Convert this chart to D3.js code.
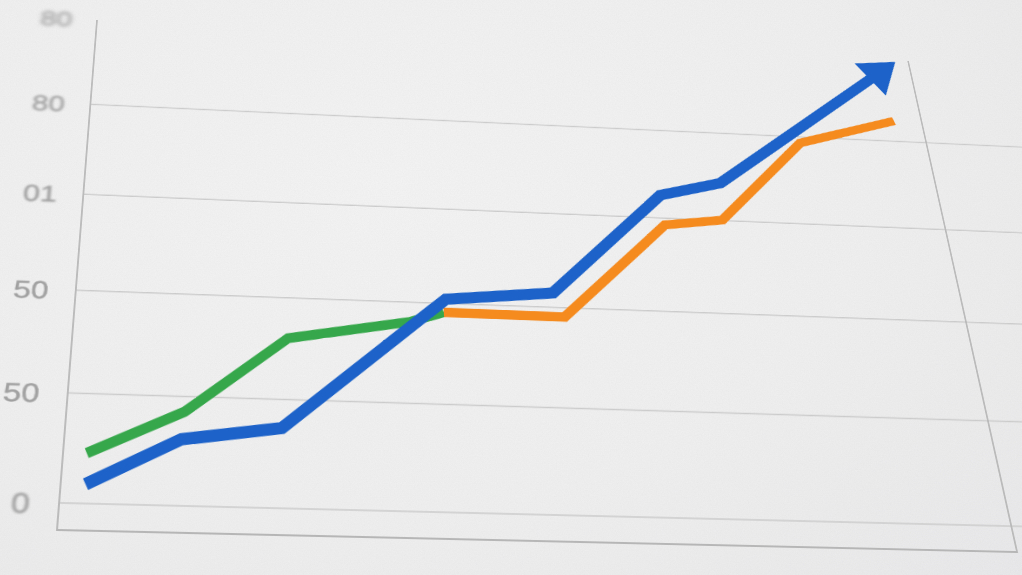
<!DOCTYPE html>
<html>
<head>
<meta charset="utf-8">
<script src="https://cdn.jsdelivr.net/npm/d3@7"></script>
<style>
  html, body { margin: 0; padding: 0; width: 1022px; height: 575px; overflow: hidden; }
  body { background: radial-gradient(ellipse 900px 600px at 380px 180px, #f2f2f2 0%, #eeeeee 55%, #e7e7e9 100%); position: relative; }
  #noise { position: absolute; left: 0; top: 0; pointer-events: none; }
  #stage { position: absolute; left: 0; top: 0; width: 1600px; height: 900px; transform-origin: 0 0; }
</style>
</head>
<body>
<svg id="noise" width="1022" height="575"></svg>
<div id="stage"></div>
<script>
// ---------------- data ----------------
const tickValues = [0, 20, 40, 60, 80, 100];
const tickLabels = ["0", "50", "50", "01", "80", "80"];

const blueX   = [2.5, 12.0, 22.4, 40.4, 52.5, 66.2, 73.6, 98.3];
const blueY   = [3.4, 12.0, 14.6, 40.9, 43.0, 65.1, 68.4, 99.6];

const orangeX = [40.1, 53.6, 66.3, 73.2, 84.2, 96.5];
const orangeY = [38.2, 38.1, 58.5, 60.1, 78.6, 84.9];

const greenX  = [2.4, 12.2, 23.0, 36.3, 40.1];
const greenY  = [9.0, 17.1, 31.9, 36.0, 38.2];

// ---------------- layout (flat chart + perspective of the photo) ----------------
const W = 1000, H = 600, OX = 250, OY = 120;
// where the frame's four corners land in the photo (TL, TR, BR, BL)
const corners = [[97, 20], [908, 61], [1017, 552], [57, 530]];

const x = d3.scaleLinear().domain([0, 100]).range([0, W]);
const y = d3.scaleLinear().domain([-4.7, 100]).range([H, 0]);

function homography(p) {
  const [x0, y0] = p[0], [x1, y1] = p[1], [x2, y2] = p[2], [x3, y3] = p[3];
  const dx1 = x1 - x2, dx2 = x3 - x2, dx3 = x0 - x1 + x2 - x3;
  const dy1 = y1 - y2, dy2 = y3 - y2, dy3 = y0 - y1 + y2 - y3;
  const den = dx1 * dy2 - dx2 * dy1;
  const g = (dx3 * dy2 - dx2 * dy3) / den, h = (dx1 * dy3 - dx3 * dy1) / den;
  return { a: x1 - x0 + g * x1, b: x3 - x0 + h * x3, c: x0,
           d: y1 - y0 + g * y1, e: y3 - y0 + h * y3, f: y0, g, h };
}
const M = homography(corners);
const A = M.a / W, B = M.b / H, C = M.c - M.a * OX / W - M.b * OY / H;
const D = M.d / W, E = M.e / H, F = M.f - M.d * OX / W - M.e * OY / H;
const G = M.g / W, HH = M.h / H, I = 1 - M.g * OX / W - M.h * OY / H;
document.getElementById('stage').style.transform =
  `matrix3d(${A},${D},0,${G},${B},${E},0,${HH},0,0,1,0,${C},${F},0,${I})`;

// ---------------- paper grain ----------------
const nz = d3.select('#noise');
const nf = nz.append('defs').append('filter').attr('id', 'grain');
nf.append('feTurbulence').attr('type', 'fractalNoise').attr('baseFrequency', 0.85).attr('numOctaves', 2).attr('seed', 3);
nf.append('feColorMatrix').attr('type', 'matrix')
  .attr('values', '0 0 0 0 0.45  0 0 0 0 0.45  0 0 0 0 0.47  0 0 0 0.9 -0.25');
nz.append('rect').attr('width', 1022).attr('height', 575).attr('filter', 'url(#grain)').attr('opacity', 0.12);

// ---------------- chart ----------------
const svg = d3.select('#stage').append('svg').attr('width', 1600).attr('height', 900);
const defs = svg.append('defs');
const blurs = [1.1, 0.7, 0.55, 0.8, 1.5, 2.3];
blurs.forEach((s, i) => {
  defs.append('filter').attr('id', 'lb' + i).attr('x', '-50%').attr('y', '-50%').attr('width', '200%').attr('height', '200%')
    .append('feGaussianBlur').attr('stdDeviation', s);
});
defs.append('filter').attr('id', 'soft').attr('x', '-20%').attr('y', '-50%').attr('width', '140%').attr('height', '200%')
  .append('feGaussianBlur').attr('stdDeviation', 0.9);
defs.append('filter').attr('id', 'soft2').attr('x', '-20%').attr('y', '-50%').attr('width', '140%').attr('height', '200%')
  .append('feGaussianBlur').attr('stdDeviation', 0.6);

const g = svg.append('g').attr('transform', `translate(${OX},${OY})`);

// gridlines (extend past the right edge of the frame, as on the paper)
g.append('g').selectAll('line').data(tickValues).join('line')
  .attr('x1', 0).attr('x2', x(135))
  .attr('y1', d => y(d)).attr('y2', d => y(d))
  .attr('stroke', (d, i) => i === tickValues.length - 1 ? '#c2c2c2' : '#cbcbcb')
  .attr('stroke-width', (d, i) => i === tickValues.length - 1 ? 2.2 : 1.5)
  .attr('filter', (d, i) => i === tickValues.length - 1 ? 'url(#soft)' : null);

// frame
g.append('path')
  .attr('d', `M${x(0)},${y(100)}V${y(-4.7)}H${x(100)}V${y(100)}`)
  .attr('fill', 'none').attr('stroke', '#b6b6b6').attr('stroke-width', 1.8)
  .attr('filter', 'url(#soft2)');
// neighbouring column edge on the paper
g.append('line')
  .attr('x1', x(111.5)).attr('x2', x(111.5)).attr('y1', y(100)).attr('y2', y(-4.7))
  .attr('stroke', '#d4d4d4').attr('stroke-width', 1.8).attr('filter', 'url(#soft)');

// y labels
const axis = d3.axisLeft(y).tickValues(tickValues).tickFormat((d, i) => tickLabels[i]).tickSize(0);
const ax = g.append('g').call(axis);
ax.select('.domain').remove();
ax.selectAll('.tick text')
  .attr('x', 0).attr('dy', '0.36em')
  .attr('transform', 'translate(-29,0) scale(1.2,1)')
  .attr('font-family', '"Liberation Sans", Arial, sans-serif')
  .attr('font-size', 28)
  .attr('fill', '#a0a0a0')
  .attr('stroke', '#a0a0a0').attr('stroke-width', 0.5)
  .attr('filter', (d, i) => `url(#lb${i})`);

// series
const line = d3.line().x(d => x(d[0])).y(d => y(d[1]));

g.append('path').datum(d3.zip(greenX, greenY)).attr('d', line)
  .attr('fill', 'none').attr('stroke', '#36a84b').attr('stroke-width', 11)
  .attr('stroke-linejoin', 'miter').attr('stroke-linecap', 'butt');

g.append('path').datum(d3.zip(orangeX, orangeY)).attr('d', line)
  .attr('fill', 'none').attr('stroke', '#f58a1f').attr('stroke-width', 11)
  .attr('stroke-linejoin', 'miter').attr('stroke-linecap', 'butt');

// blue with arrow head
const bluePts = d3.zip(blueX, blueY).map(d => [x(d[0]), y(d[1])]);
const tip = bluePts[bluePts.length - 1];
const prev = bluePts[bluePts.length - 2];
const len = Math.hypot(tip[0] - prev[0], tip[1] - prev[1]);
const ux = (tip[0] - prev[0]) / len, uy = (tip[1] - prev[1]) / len;
const headLen = 46, headHalf = 27;
const lineEnd = [tip[0] - ux * headLen * 0.75, tip[1] - uy * headLen * 0.75];
const blueLinePts = bluePts.slice(0, -1).concat([lineEnd]);
g.append('path').datum(blueLinePts).attr('d', d3.line())
  .attr('fill', 'none').attr('stroke', '#1c62c9').attr('stroke-width', 13)
  .attr('stroke-linejoin', 'miter').attr('stroke-linecap', 'butt');
const base = [tip[0] - ux * headLen, tip[1] - uy * headLen];
g.append('path')
  .attr('d', `M${tip[0]},${tip[1]}L${base[0] - uy * headHalf},${base[1] + ux * headHalf}` +
             `L${base[0] + uy * headHalf},${base[1] - ux * headHalf}Z`)
  .attr('fill', '#1c62c9').attr('filter', 'url(#soft2)');
</script>
</body>
</html>
